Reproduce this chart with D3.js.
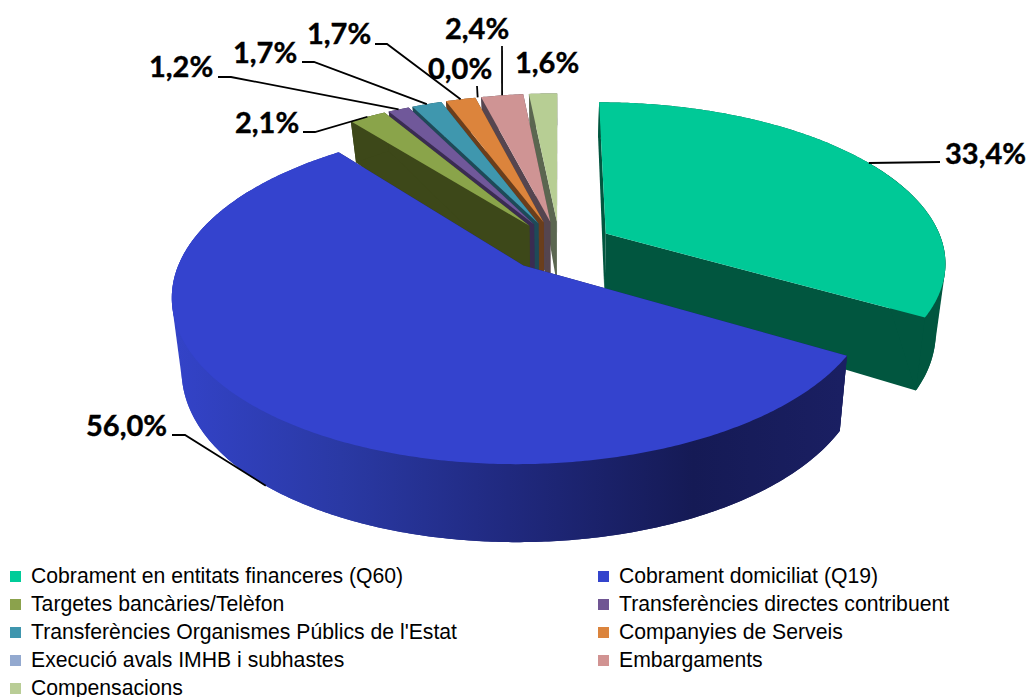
<!DOCTYPE html>
<html><head><meta charset="utf-8">
<script src="https://cdn.jsdelivr.net/npm/d3@7"></script>
<style>html,body{margin:0;padding:0;background:#fff}svg{display:block}</style>
</head><body><svg id="c" width="1027" height="697"></svg>
<script>
const categories = ["Cobrament en entitats financeres (Q60)","Cobrament domiciliat (Q19)","Targetes bancàries/Telèfon","Transferències directes contribuent","Transferències Organismes Públics de l'Estat","Companyies de Serveis","Execució avals IMHB i subhastes","Embargaments","Compensacions"];
const values = [33.4,56.0,2.1,1.2,1.7,1.7,0.0,2.4,1.6];
const valueLabels = ["33,4%","56,0%","2,1%","1,2%","1,7%","1,7%","0,0%","2,4%","1,6%"];
const topColors = ["#00c997","#3443ce","#8aa44a","#70589a","#3f97ae","#dc843c","#93a9cf","#cf9494","#b7ce94"];
const legendColors = ["#00cc99","#3344cc","#8ba24c","#705593","#3f96ae","#db843d","#93a9cf","#d19392","#b9cd96"];
const wallColors = ["#01563f","#1a1f60","#3d4819","#3a2c52","#1e4a58","#6a3e1c","#4a5468","#55454f","#5b6650"];
// label placement: text x, baseline y, leader start, optional elbow
const labelLayout = [
 {x:945,y:164,path:[[940,162]]},
 {x:86,y:436,path:[[172,435],[185,435]],deep:true},
 {x:235,y:133,path:[[303,132],[315,132]]},
 {x:149,y:77,path:[[218,77],[231,77]]},
 {x:233,y:63,path:[[302,62],[314,62]]},
 {x:307,y:44,path:[[375,44],[387,44]]},
 {x:428,y:79,path:[[477,86]]},
 {x:445,y:39,path:[[502,46]]},
 {x:515,y:73,path:null}
];

const svg = d3.select("#c");
const cx=559.5, cy=246, rx=338, ry=157.5, p=0.17, explode=0.16, baseShrink=0.975;
const depth = v => 66.1 + 19.8*v - 8.19*v*v;

function project(u,v,bottom){
  const w = 1 - p*v;
  let x = rx*u/w, y = cy + ry*v/w;
  if(bottom){ x *= baseShrink; y += depth(v); }
  return [cx+x, y];
}
const arcs = d3.pie().sort(null).value(d=>d)(values);
const slices = arcs.map((a,i)=>{
  const mid=(a.startAngle+a.endAngle)/2;
  const ou=explode*Math.sin(mid), ov=-explode*Math.cos(mid);
  const at=(ang,r,b)=>project(r*Math.sin(ang)+ou, -r*Math.cos(ang)+ov, b);
  return {i,a0:a.startAngle,a1:a.endAngle,mid,at};
});
const line=d3.line();
const defs=svg.append("defs");
const grad=defs.append("linearGradient").attr("id","blueWall").attr("gradientUnits","userSpaceOnUse")
  .attr("x1",175).attr("x2",840).attr("y1",0).attr("y2",0);
[[0,"#3343c8"],[0.25,"#2a39a4"],[0.5,"#20297f"],[0.78,"#151a55"],[1,"#1a1f62"]].forEach(s=>grad.append("stop").attr("offset",s[0]).attr("stop-color",s[1]));

function arcPts(s,bottom,a0=s.a0,a1=s.a1){
  const n=Math.max(2,Math.ceil((a1-a0)/0.01));
  return d3.range(n+1).map(k=>s.at(a0+(a1-a0)*k/n,1,bottom));
}
const g=svg.append("g");
const silhouetteWindows=[[Math.PI/3,Math.PI],[Math.PI,Math.PI*5/3]];
function drawSlice(s){
  if(values[s.i]<=0) return;
  const wall = s.i===1 ? "url(#blueWall)" : wallColors[s.i];
  const top=arcPts(s,false), bot=arcPts(s,true);
  const A=s.at(0,0,false), B=s.at(0,0,true);
  // radial walls
  [s.a0,s.a1].forEach(ang=>{
    g.append("path").attr("d",line([A,s.at(ang,1,false),s.at(ang,1,true),B])+"Z").attr("fill",wallColors[s.i]);
  });
  // outer wall, including its tangent silhouette between top and base
  silhouetteWindows.forEach(wd=>{
    const a0=Math.max(s.a0,wd[0]), a1=Math.min(s.a1,wd[1]);
    if(a1-a0<0.05) return;
    const hull=d3.polygonHull(arcPts(s,false,a0,a1).concat(arcPts(s,true,a0,a1)));
    g.append("path").attr("d",line(hull)+"Z").attr("fill",wall);
  });
  g.append("path").attr("d",line(top.concat(bot.slice().reverse()))+"Z").attr("fill",wall);
  // top face
  g.append("path").attr("d",line([A].concat(top))+"Z").attr("fill",topColors[s.i]);
}
[8,7,6,5,4,3,2,0,1].forEach(i=>drawSlice(slices[i]));

// leaders and labels
const lab=svg.append("g").attr("font-family","Lato, 'Open Sans', sans-serif").attr("font-weight",700).attr("font-size",29).attr("fill","#000");
labelLayout.forEach((l,i)=>{
  lab.append("text").attr("x",l.x).attr("y",l.y).attr("stroke","#000").attr("stroke-width",0.4).text(valueLabels[i]);
  if(!l.path) return;
  const s=slices[i];
  const end=l.deep? s.at(s.mid,1,true): s.at(s.mid,1,false);
  lab.append("path").attr("d",line(l.path.concat([end]))).attr("fill","none").attr("stroke","#000").attr("stroke-width",1.8);
});

// legend
const colX=d3.scaleOrdinal().domain([0,1]).range([10,598]);
const rowY=d3.scalePoint().domain(d3.range(5)).range([576,688]);
const leg=svg.append("g").attr("font-family","'Liberation Sans', Arial, sans-serif").attr("font-size",21.2).attr("fill","#000");
categories.forEach((c,i)=>{
  const x=colX(i%2), y=rowY(Math.floor(i/2));
  leg.append("rect").attr("x",x).attr("y",y-5).attr("width",11).attr("height",11).attr("fill",legendColors[i]);
  leg.append("text").attr("x",x+21).attr("y",y+6.5).text(c);
});
</script></body></html>
